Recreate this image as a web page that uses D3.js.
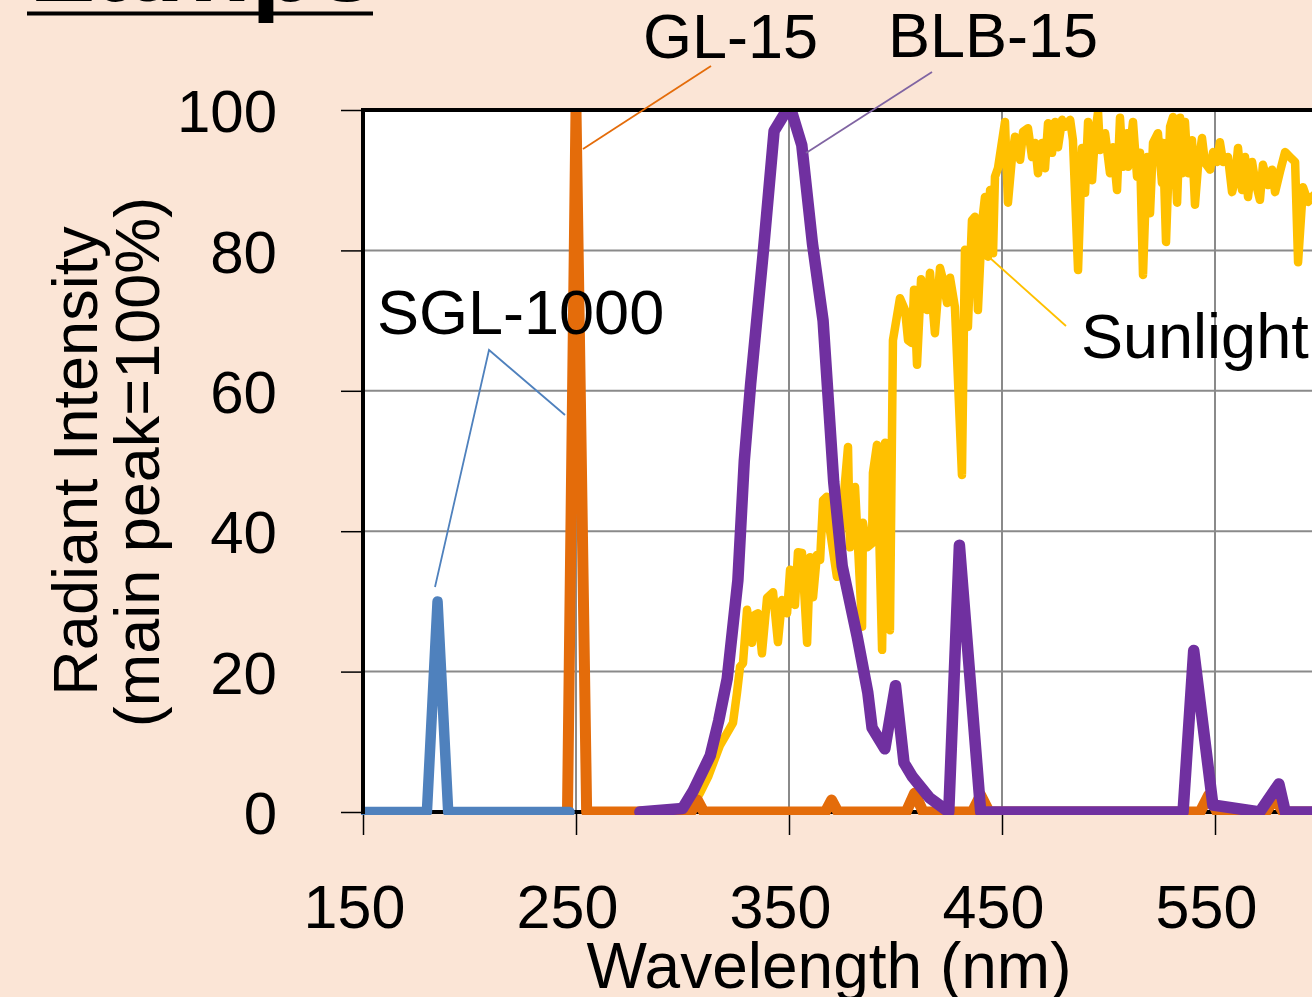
<!DOCTYPE html>
<html>
<head>
<meta charset="utf-8">
<script src="https://cdn.jsdelivr.net/npm/d3@7"></script>
<style>
  html, body { margin: 0; padding: 0; background: #fbe5d6; overflow: hidden; }
  svg { display: block; font-family: "Liberation Sans", Arial, sans-serif; }
</style>
</head>
<body>
<div id="chart"></div>
<script>
// Spectra, [wavelength nm, relative intensity %]
const sgl1000 = [[150, 0], [180, 0], [185, 30], [190, 0], [247, 0]];

const gl15 = [[246, 0], [250, 100], [255, 0], [304, 0], [307, 1.7], [310, 0],
  [367, 0], [370, 1.7], [373, 0], [405, 0], [409, 2.7], [413, 0], [436, 0], [440, 2.4],
  [444, 0], [543, 0], [547, 2.4], [551, 0], [574, 0], [578, 2], [582, 0], [650, 0]];

const blb15 = [[280, 0], [300, 0.5], [305, 3], [313, 8], [317, 13], [321, 19], [326, 33],
  [329, 50], [332, 61], [338, 80], [343, 97], [349, 100], [351, 100], [356, 95], [361, 81],
  [366, 70], [371, 47], [375, 35], [382, 25], [387, 17], [389, 12], [395, 9], [400, 18],
  [404, 7], [408, 5], [416, 2], [425, 0], [430, 38], [440, 0], [535, 0], [540, 23],
  [549, 1], [571, 0], [580, 4], [583, 0], [650, 0]];

const sunlight = [[303.5, 0.3], [308.2, 2.7], [312, 5], [317.6, 9.5], [323.7, 12.7],
  [325.6, 17], [327, 20.7], [328.4, 21.2], [330.3, 28.8], [332.6, 24.1], [334, 28.1],
  [335.4, 28.3], [337.3, 22.6], [339.7, 30.5], [342.5, 31.3], [344.8, 24.2], [346.7, 30.2],
  [349.1, 28.3], [350.5, 34.5], [352.8, 29.5], [354.2, 37], [356.1, 36.9], [358.5, 24.1],
  [359.9, 36.3], [361.3, 30.6], [363.1, 36.6], [364.6, 35.9], [366, 44.4], [367.7, 44.9],
  [369.2, 40.2], [372.5, 33.5], [377.7, 52], [378.6, 37.7], [381, 46.3], [384.3, 26.4],
  [384.7, 41.2], [386.6, 37.7], [389, 38.3], [389.4, 48.3], [391.3, 52.3], [393.7, 23.1],
  [395.1, 52.6], [397.4, 25.9], [398.8, 67.2], [402.1, 73.2], [404.5, 71.5], [405.9, 67.2],
  [407.7, 66.8], [408.7, 74.4], [410.1, 63.7], [412, 75.9], [414.8, 71.5], [416.2, 76.8],
  [418.5, 68.2], [420.9, 77.5], [422.3, 75.8], [424.2, 72.5], [425.6, 76.1], [427.9, 71.9],
  [431.2, 48], [432.6, 80.1], [434, 69.1], [435.9, 84.3], [437.3, 84.8], [438.7, 71.5],
  [440.6, 83.9], [442, 87.6], [443.4, 79.1], [444.4, 88.6], [445.8, 79.6], [446.7, 90.5],
  [448.1, 91.7], [451.4, 98.3], [452.8, 86.8], [454.7, 93.3], [456.1, 96.2], [458.5, 92.9],
  [459.9, 96.9], [462.2, 97.4], [464.1, 93.3], [465.5, 95.3], [466.9, 91], [468.8, 95.3],
  [470.2, 91.7], [471.6, 98.1], [473.5, 93.9], [474.9, 98.3], [476.3, 94.7], [478.2, 98.6],
  [479.6, 97.6], [482, 98.6], [483.3, 95.7], [485.7, 77.2], [487.6, 94.6], [489, 88.2],
  [490.4, 98.3], [492.3, 90], [493.7, 96.7], [495.1, 99.7], [496, 94.3], [498.4, 96.7],
  [500.7, 91], [502.1, 94.7], [504, 88.6], [505.4, 98.9], [506.8, 91.9], [508.7, 96.7],
  [509.2, 91.9], [511.5, 98.3], [513.4, 90.5], [514.8, 93.9], [516.2, 76.5], [518.1, 93.3],
  [519.5, 85.3], [520.9, 95.3], [523.2, 96.7], [525.1, 89.6], [525.6, 95.3], [527, 81.2],
  [528.9, 97.6], [530.3, 99], [532.2, 86.8], [533.6, 98.9], [534.5, 91], [535.9, 98.3],
  [537.3, 91], [539.2, 95.7], [540.6, 86.5], [542, 91.9], [543.9, 96], [545.3, 92.5],
  [547.7, 91.5], [549.1, 94], [550.9, 92.6], [552.3, 95.4], [553.8, 92.6], [556.1, 93.3],
  [558, 88.3], [559.4, 90], [560.8, 94.6], [562.7, 88.6], [564.1, 93.3], [565.5, 87.6],
  [567.4, 92.6], [568.8, 90], [571.1, 87.2], [572.5, 92.2], [574.9, 89.3], [576.8, 91.5],
  [578.2, 88.3], [580.5, 91.2], [582.9, 94], [585.2, 93.3], [587.6, 92.6], [589, 78.3],
  [591.3, 89], [593.7, 86.9], [595.5, 87.6], [599.3, 88.6], [603, 86]];

const xTicks = [150, 250, 350, 450, 550, 650];
const yTicks = [0, 20, 40, 60, 80, 100];

const W = 1312, H = 997;
const plot = { left: 363, top: 110, bottom: 812 };

const svg = d3.select("#chart").append("svg")
  .attr("width", W)
  .attr("height", H);

// scales
const x = d3.scaleLinear().domain([150, 650]).range([plot.left, plot.left + 500 * 2.13]);
const y = d3.scaleLinear().domain([0, 100]).range([plot.bottom, plot.top]);

// title, mostly cropped off the top
svg.append("text")
  .attr("x", 29)
  .attr("y", 1)
  .attr("font-size", 108)
  .attr("font-weight", "bold")
  .text("Lamps");
svg.append("line")
  .attr("x1", 27).attr("x2", 373)
  .attr("y1", 13.5).attr("y2", 13.5)
  .attr("stroke", "#000")
  .attr("stroke-width", 4);

// plot background
svg.append("rect")
  .attr("x", plot.left)
  .attr("y", plot.top)
  .attr("width", x(650) - plot.left)
  .attr("height", plot.bottom - plot.top)
  .attr("fill", "#fff");

// gridlines
svg.append("g")
  .selectAll("line")
  .data(yTicks.slice(1, -1))
  .join("line")
  .attr("x1", plot.left).attr("x2", x(650))
  .attr("y1", d => y(d)).attr("y2", d => y(d))
  .attr("stroke", "#8a8a8a")
  .attr("stroke-width", 2);
svg.append("g")
  .selectAll("line")
  .data(xTicks.slice(1))
  .join("line")
  .attr("x1", d => x(d)).attr("x2", d => x(d))
  .attr("y1", plot.top).attr("y2", plot.bottom)
  .attr("stroke", "#8a8a8a")
  .attr("stroke-width", 2);

// bottom border under the series
svg.append("line")
  .attr("x1", plot.left).attr("x2", x(650))
  .attr("y1", plot.bottom).attr("y2", plot.bottom)
  .attr("stroke", "#000")
  .attr("stroke-width", 4);

// axes
const yAxis = svg.append("g")
  .attr("transform", `translate(${plot.left},0)`)
  .call(d3.axisLeft(y).tickValues(yTicks).tickSize(22).tickPadding(64).tickFormat(d3.format("d")));
yAxis.select(".domain").remove();
yAxis.selectAll(".tick line").attr("stroke", "#000").attr("stroke-width", 1.5);
yAxis.selectAll(".tick text")
  .attr("font-size", 60)
  .attr("font-family", "Liberation Sans, Arial, sans-serif")
  .attr("fill", "#000")
  .attr("dy", "0.36em");

const xAxis = svg.append("g")
  .attr("transform", `translate(0,${plot.bottom})`)
  .call(d3.axisBottom(x).tickValues(xTicks).tickSize(23).tickPadding(0).tickFormat(d3.format("d")));
xAxis.select(".domain").remove();
xAxis.selectAll(".tick line").attr("stroke", "#000").attr("stroke-width", 1.5);
xAxis.selectAll(".tick text")
  .attr("font-size", 61)
  .attr("font-family", "Liberation Sans, Arial, sans-serif")
  .attr("fill", "#000")
  .attr("dy", null)
  .attr("y", 116)
  .attr("x", -9);

// series, clipped a little below the bottom border
svg.append("clipPath").attr("id", "clip")
  .append("rect")
  .attr("x", plot.left - 2).attr("y", plot.top)
  .attr("width", x(650)).attr("height", plot.bottom - plot.top + 3);

const line = d3.line().x(d => x(d[0])).y(d => y(d[1]));
const series = [
  { data: sunlight, color: "#ffc000", width: 8.5 },
  { data: gl15, color: "#e46c0a", width: 11 },
  { data: sgl1000, color: "#4f81bd", width: 10.5 },
  { data: blb15, color: "#7030a0", width: 11.5 }
];
const g = svg.append("g").attr("clip-path", "url(#clip)");
g.selectAll("path")
  .data(series)
  .join("path")
  .attr("d", d => line(d.data))
  .attr("fill", "none")
  .style("stroke", d => d.color)
  .style("stroke-width", d => d.width + "px")
  .style("stroke-linejoin", "round")
  .style("stroke-linecap", "round");

// top and left borders
svg.append("line")
  .attr("x1", plot.left - 2).attr("x2", x(650))
  .attr("y1", plot.top).attr("y2", plot.top)
  .attr("stroke", "#000").attr("stroke-width", 4);
svg.append("line")
  .attr("x1", plot.left).attr("x2", plot.left)
  .attr("y1", plot.top).attr("y2", plot.bottom + 2)
  .attr("stroke", "#000").attr("stroke-width", 4);

// axis titles
svg.append("text")
  .attr("transform", "translate(97,461) rotate(-90)")
  .attr("text-anchor", "middle")
  .attr("font-size", 63)
  .text("Radiant Intensity");
svg.append("text")
  .attr("transform", "translate(159,462) rotate(-90)")
  .attr("text-anchor", "middle")
  .attr("font-size", 63)
  .text("(main peak=100%)");
svg.append("text")
  .attr("x", 829)
  .attr("y", 988)
  .attr("text-anchor", "middle")
  .attr("font-size", 64)
  .text("Wavelength (nm)");

// callouts
const callouts = [
  { text: "GL-15", tx: 643, ty: 58, color: "#e46c0a", pts: [[711, 66], [583, 149]] },
  { text: "BLB-15", tx: 888, ty: 57, color: "#8064a2", pts: [[932, 72], [806, 153]] },
  { text: "SGL-1000", tx: 377, ty: 334, color: "#4f81bd", pts: [[435, 587], [489, 350], [565, 415]] },
  { text: "Sunlight", tx: 1081, ty: 358, color: "#ffc000", pts: [[990, 258], [1066, 326]] }
];
callouts.forEach(c => {
  svg.append("path")
    .attr("d", d3.line()(c.pts))
    .attr("fill", "none")
    .attr("stroke", c.color)
    .attr("stroke-width", 1.8);
  svg.append("text")
    .attr("x", c.tx)
    .attr("y", c.ty)
    .attr("font-size", 63)
    .text(c.text);
});
</script>
</body>
</html>
